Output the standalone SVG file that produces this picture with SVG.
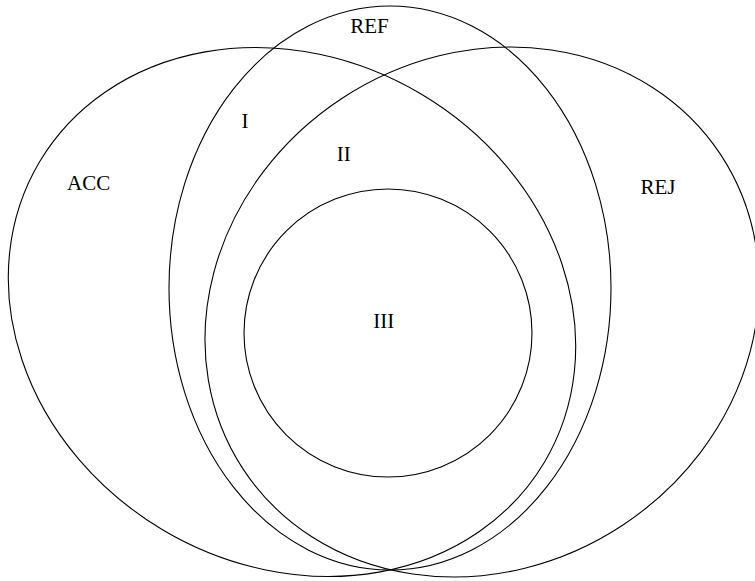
<svg xmlns="http://www.w3.org/2000/svg" width="755" height="581" viewBox="0 0 755 581">
<style>
.shape{fill:none;stroke:#000;stroke-width:1.1}
.lbl{font-family:"Liberation Serif","Times New Roman",serif;font-size:21px;fill:#000;text-anchor:middle}
</style>
<rect width="755" height="581" fill="#fff"/>
<g id="ACC">
<ellipse class="shape" cx="292" cy="312" rx="293.7" ry="253.3" transform="rotate(30.75 292 312)"/>
<text class="lbl" x="88.7" y="190">ACC</text>
</g>
<g id="REJ">
<ellipse class="shape" cx="482" cy="312" rx="285.9" ry="255.4" transform="rotate(-33.4 482 312)"/>
<text class="lbl" x="658" y="194">REJ</text>
</g>
<g id="REF">
<ellipse class="shape" cx="390" cy="288" rx="221" ry="282"/>
<text class="lbl" x="369.5" y="33">REF</text>
</g>
<g id="III">
<circle class="shape" cx="388" cy="333" r="144"/>
<text class="lbl" x="383.8" y="328.3">III</text>
</g>
<g id="I">
<text class="lbl" x="245" y="127.7">I</text>
</g>
<g id="II">
<text class="lbl" x="343.7" y="161">II</text>
</g>
<g id="connectors"/>
</svg>
